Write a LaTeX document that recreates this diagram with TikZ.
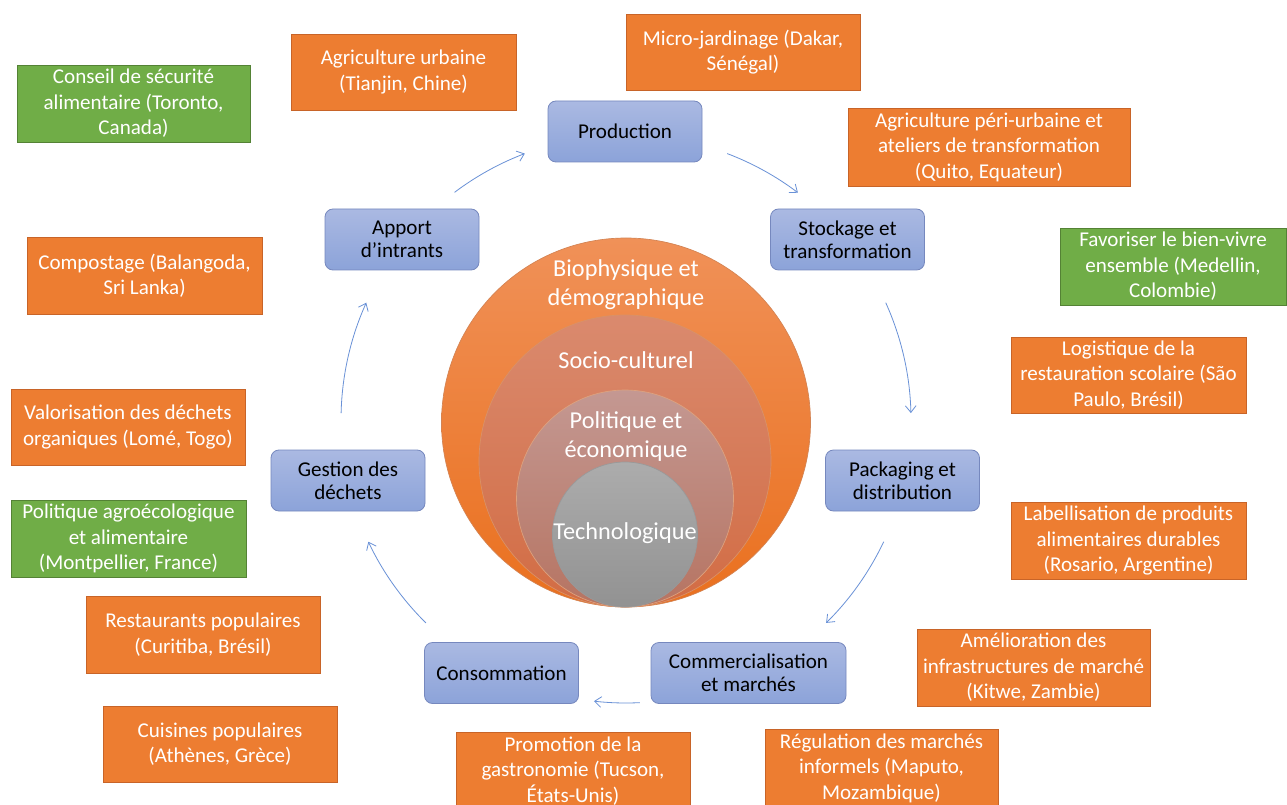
\documentclass[tikz,border=0pt]{standalone}
\usepackage{fontspec}
\setmainfont{Carlito}
\usetikzlibrary{arrows.meta}
\definecolor{orng}{RGB}{237,125,49}
\definecolor{orngb}{RGB}{200,100,40}
\definecolor{grn}{RGB}{112,173,71}
\definecolor{grnb}{RGB}{84,130,53}
\definecolor{bluet}{RGB}{170,185,226}
\definecolor{blueb}{RGB}{140,163,217}
\definecolor{blued}{RGB}{118,136,190}
\definecolor{arr}{RGB}{105,145,215}
\tikzset{
  proc/.style={draw=blued, line width=0.6pt, rounded corners=6pt, top color=bluet, bottom color=blueb,
    minimum width=154*0.75pt, minimum height=61*0.75pt, align=center, inner sep=2pt,
    font=\fontsize{15.8}{17.5}\selectfont, text=black},
  exbox/.style={draw=orngb, line width=0.5pt, fill=orng, minimum width=234*0.75pt, minimum height=77*0.75pt,
    align=center, inner sep=2pt, font=\fontsize{15.8}{19.1}\selectfont, text=white},
  grbox/.style={exbox, draw=grnb, fill=grn},
  flow/.style={draw=arr, line width=0.6pt, -{Straight Barb[length=5pt,width=8pt]}},
  ring/.style={line width=0.5pt},
  ctext/.style={text=white, align=center, font=\fontsize{18.2}{21.75}\selectfont},
}
\begin{document}
\begin{tikzpicture}[x=0.75pt,y=-0.75pt]
\useasboundingbox[fill=white] (0,0) rectangle (1287,805);
% circles
\shade[ring, draw=orngb!80, top color={rgb,255:red,240;green,145;blue,88}, bottom color={rgb,255:red,234;green,112;blue,30}] (626,422.5) circle[radius=184.5];
\shade[ring, draw=orngb!70, top color={rgb,255:red,218;green,138;blue,110}, bottom color={rgb,255:red,210;green,108;blue,68}] (625,461) circle[radius=146];
\shade[ring, draw=orngb!60, top color={rgb,255:red,196;green,152;blue,146}, bottom color={rgb,255:red,182;green,116;blue,98}] (625,498.5) circle[radius=108.5];
\shade[ring, draw=gray!80, top color={rgb,255:red,172;green,172;blue,172}, bottom color={rgb,255:red,146;green,146;blue,146}] (625,534.5) circle[radius=72.5];
\node[ctext] (bio) at (626,284.5) {Biophysique et\\démographique};
\node[ctext] (soc) at (626,360) {Socio-culturel};
\node[ctext] (pol) at (626,437) {Politique et\\économique};
\node[ctext] (tec) at (625,533) {Technologique};
% process boxes
\node[proc] (prod) at (625,131.5) {Production};
\node[proc] (stock) at (847.5,239.5) {Stockage et\\transformation};
\node[proc] (pack) at (902.5,480.5) {Packaging et\\distribution};
\node[proc, minimum width=195*0.75pt] (comm) at (748.5,673) {Commercialisation\\et marchés};
\node[proc] (cons) at (501.5,673) {Consommation};
\node[proc] (gest) at (348,480.5) {Gestion des\\déchets};
\node[proc] (app) at (402,239.5) {Apport\\d’intrants};
% cycle arrows
\coordinate (O) at (626,420);
\draw[flow] (O) ++(-127:285) arc[start angle=-127, end angle=-110.8, radius=285];
\draw[flow] (O) ++(-69.2:285) arc[start angle=-69.2, end angle=-52.9, radius=285];
\draw[flow] (O) ++(-24.3:285) arc[start angle=-24.3, end angle=-1.4, radius=285];
\draw[flow] (O) ++(25.3:285) arc[start angle=25.3, end angle=45.4, radius=285];
\draw[flow] (O) ++(87.2:283) arc[start angle=87.2, end angle=96.5, radius=283];
\draw[flow] (O) ++(134.6:285) arc[start angle=134.6, end angle=154.7, radius=285];
\draw[flow] (O) ++(181.4:285) arc[start angle=181.4, end angle=204.3, radius=285];
% example boxes
\node[grbox, minimum width=233*0.75pt] (toronto) at (133.5,103.5) {Conseil de sécurité\\alimentaire (Toronto,\\Canada)};
\node[exbox, minimum width=225*0.75pt, minimum height=76*0.75pt] (tianjin) at (403.5,72) {Agriculture urbaine\\(Tianjin, Chine)};
\node[exbox, minimum height=76*0.75pt] (dakar) at (743,52) {Micro-jardinage (Dakar,\\Sénégal)};
\node[exbox, minimum width=282*0.75pt, minimum height=78*0.75pt] (quito) at (989,147) {Agriculture péri-urbaine et\\ateliers de transformation\\(Quito, Equateur)};
\node[grbox, minimum width=226*0.75pt] (medellin) at (1173,266.5) {Favoriser le bien-vivre\\ensemble (Medellin,\\Colombie)};
\node[exbox, minimum width=235*0.75pt] (balangoda) at (144.5,275.5) {Compostage (Balangoda,\\Sri Lanka)};
\node[exbox, minimum width=235*0.75pt, minimum height=76*0.75pt] (saopaulo) at (1128.5,375) {Logistique de la\\restauration scolaire (São\\Paulo, Brésil)};
\node[exbox, minimum height=76*0.75pt] (lome) at (128,427) {Valorisation des déchets\\organiques (Lomé, Togo)};
\node[grbox, minimum width=235*0.75pt] (montpellier) at (128.5,538.5) {Politique agroécologique\\et alimentaire\\(Montpellier, France)};
\node[exbox, minimum width=235*0.75pt] (rosario) at (1128.5,540.5) {Labellisation de produits\\alimentaires durables\\(Rosario, Argentine)};
\node[exbox] (curitiba) at (203,634.5) {Restaurants populaires\\(Curitiba, Brésil)};
\node[exbox, minimum width=233*0.75pt] (kitwe) at (1033.5,667.5) {Amélioration des\\infrastructures de marché\\(Kitwe, Zambie)};
\node[exbox, minimum height=76*0.75pt] (athenes) at (220,744) {Cuisines populaires\\(Athènes, Grèce)};
\node[exbox] (tucson) at (573,771) {Promotion de la\\gastronomie (Tucson,\\États-Unis)};
\node[exbox, minimum width=233*0.75pt] (maputo) at (881.5,768) {Régulation des marchés\\informels (Maputo,\\Mozambique)};
\end{tikzpicture}
\end{document}
